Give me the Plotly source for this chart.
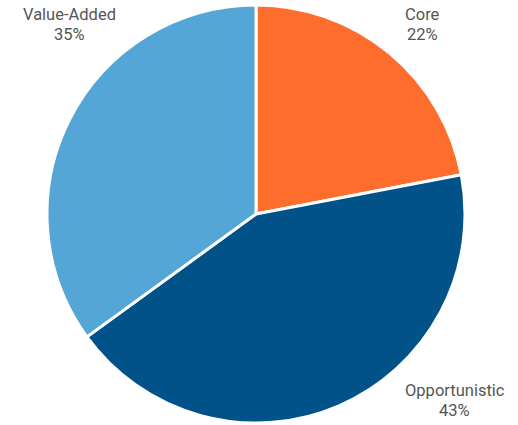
import plotly.graph_objects as go

# Portfolio allocation by strategy
labels = ["Core", "Opportunistic", "Value-Added"]
values = [22, 43, 35]
colors = ["#FF6D2C", "#02528A", "#53A6D5"]

# Label anchor points (pixels from top-left) for each slice: x centre, y of first line
label_x = [422.5, 454.5, 69.5]
label_y = [15, 390.5, 15]
LINE_GAP = 19.5

W, H = 518, 425
FONT = dict(family="Roboto", size=16.5, color="#555555")

fig = go.Figure(
    go.Pie(
        labels=labels,
        values=values,
        sort=False,
        direction="clockwise",
        rotation=0,
        marker=dict(colors=colors, line=dict(color="white", width=3)),
        textinfo="none",
        hoverinfo="label+percent",
        domain=dict(x=[47 / W, 465 / W], y=[(H - 423) / H, (H - 5) / H]),
    )
)

total = sum(values)
for lab, val, x, y in zip(labels, values, label_x, label_y):
    for i, line in enumerate([lab, f"{round(100 * val / total)}%"]):
        fig.add_annotation(
            x=x / W,
            y=1 - (y + i * LINE_GAP) / H,
            xref="paper",
            yref="paper",
            text=line,
            showarrow=False,
            xanchor="center",
            yanchor="middle",
            font=FONT,
        )

fig.update_layout(
    width=W,
    height=H,
    margin=dict(l=0, r=0, t=0, b=0),
    showlegend=False,
    paper_bgcolor="white",
    plot_bgcolor="white",
)

fig.write_html("out.html")
